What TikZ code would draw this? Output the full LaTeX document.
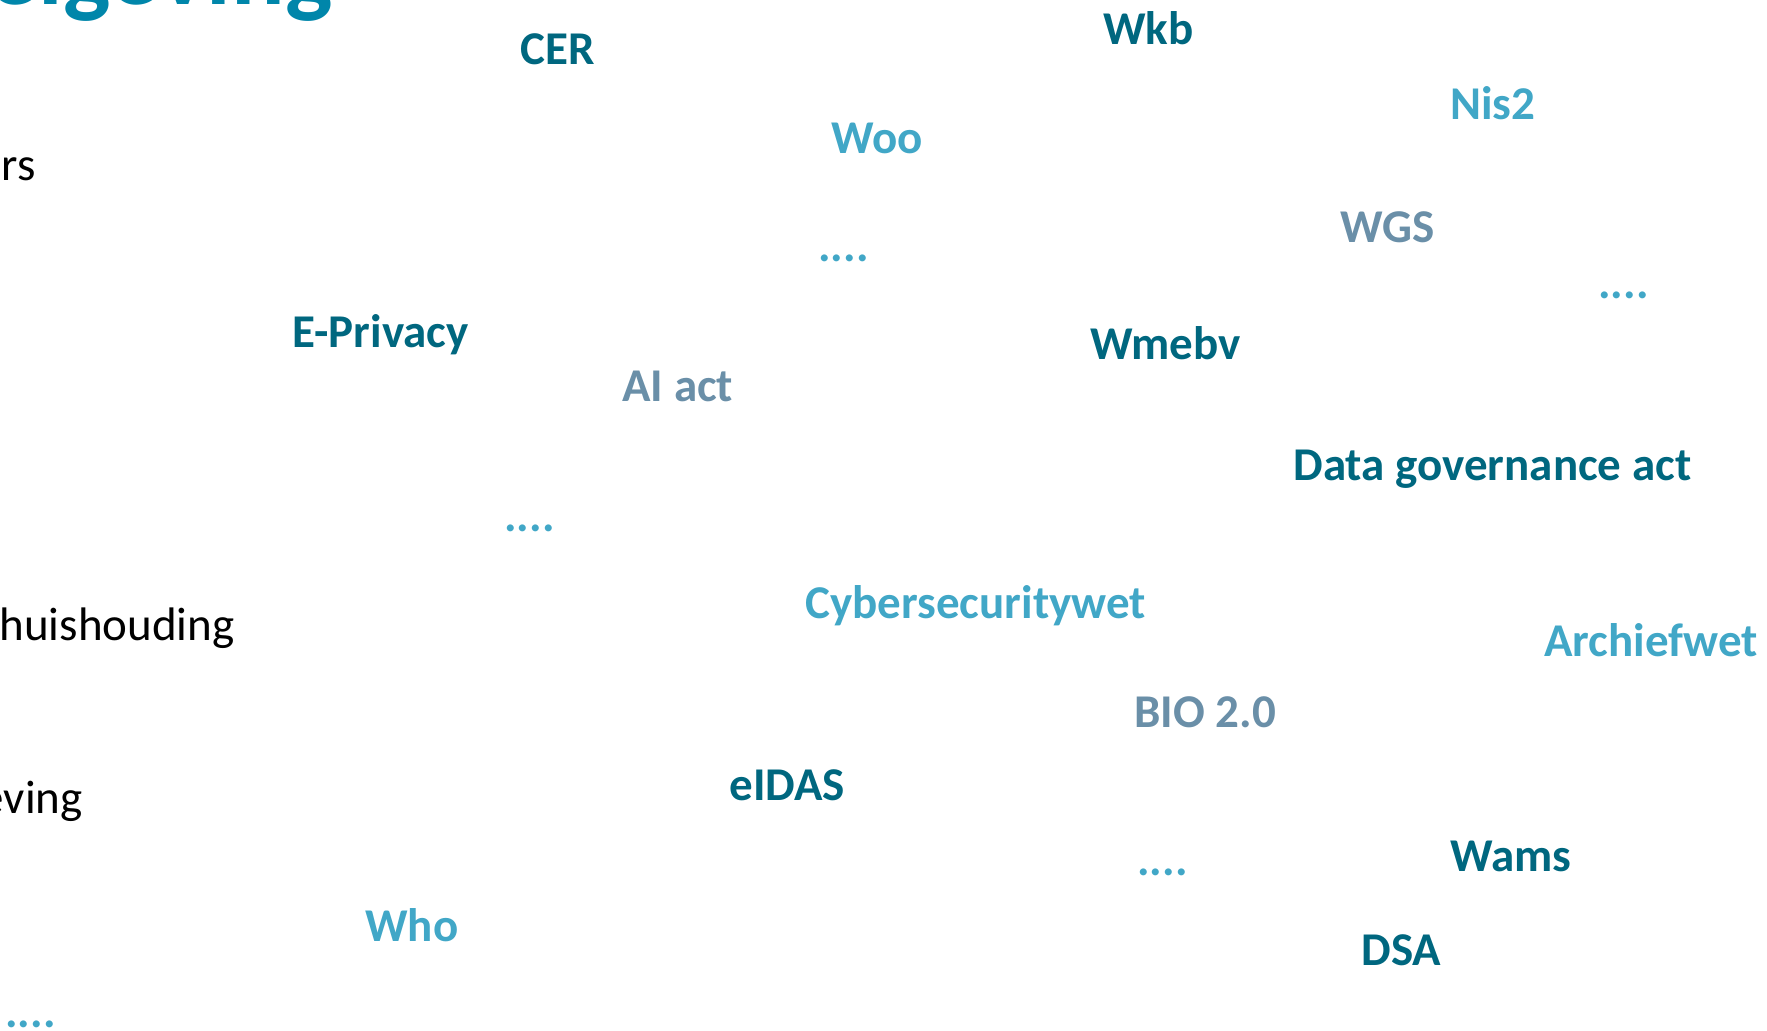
\documentclass[tikz,border=0pt]{standalone}
\usepackage{fontspec}
\setmainfont{Carlito}
\definecolor{darkteal}{HTML}{00677F}
\definecolor{lightblue}{HTML}{41A7C7}
\definecolor{grayblue}{HTML}{6A8FA8}
\definecolor{titleblue}{HTML}{0086AA}
\tikzset{
  lbl/.style={inner sep=0pt, anchor=base west, font=\fontsize{23.5}{28}\selectfont\bfseries},
  dk/.style={lbl, text=darkteal},
  lt/.style={lbl, text=lightblue},
  gr/.style={lbl, text=grayblue},
  blk/.style={inner sep=0pt, anchor=base east, font=\fontsize{23.5}{28}\selectfont, text=black},
  ttl/.style={inner sep=0pt, anchor=base east, font=\fontsize{50}{60}\selectfont\bfseries, text=titleblue}
}
\begin{document}
\begin{tikzpicture}[x=0.5pt, y=-0.5pt]
\useasboundingbox (0,0) rectangle (1767,1030);
\clip (0,0) rectangle (1767,1030);
\node[ttl] (title) at (333,4) {Regelgeving};
\node[blk] (rs) at (36,180) {rs};
\node[blk] (huis) at (235,640) {huishouding};
\node[blk] (eving) at (83,813) {eving};
\node[dk] (cer) at (520,64) {CER};
\node[dk] (wkb) at (1103,44) {Wkb};
\node[lt] (woo) at (831,153.5) {Woo};
\node[lt] (nis) at (1450,119) {Nis2};
\node[gr] (wgs) at (1340,242) {WGS};
\node[lt] (d1) at (818,261) {....};
\node[lt] (d2) at (1598,298) {....};
\node[dk] (epriv) at (292,347.5) {E-Privacy};
\node[dk] (wmebv) at (1090,359) {Wmebv};
\node[gr] (ai) at (622,401) {AI act};
\node[dk] (dga) at (1293,480) {Data governance act};
\node[lt] (d3) at (504,531) {....};
\node[lt] (cyber) at (805,618.5) {Cybersecuritywet};
\node[lt] (archief) at (1544,656) {Archiefwet};
\node[gr] (bio) at (1134,727.5) {BIO 2.0};
\node[dk] (eidas) at (729,800) {eIDAS};
\node[lt] (d4) at (1137,875) {....};
\node[dk] (wams) at (1450,871) {Wams};
\node[lt] (who) at (365,941) {Who};
\node[dk] (dsa) at (1361,965) {DSA};
\node[lt] (d5) at (5,1027) {....};
\end{tikzpicture}
\end{document}
